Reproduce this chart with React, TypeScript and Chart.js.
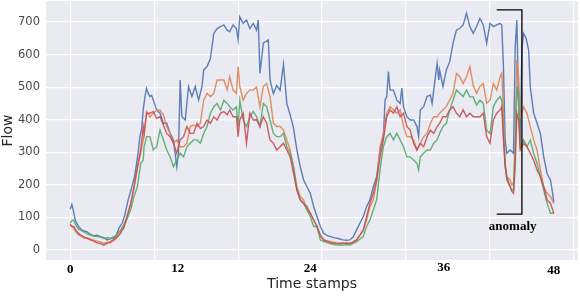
import React, { useEffect, useRef } from 'react';
import { Chart, registerables } from 'chart.js';
Chart.register(...registerables);

// ---- data (x = time index, 5-min steps; y = flow) ----
const blueX = [0,2,4,6,10,14,20,24,28,32,36,40,44,48,52,55,58,62,65,69,73,77,81,83,85,87,89,91,93,95,97,99,103,107,111,115,119,123,127,129,131,133,137,141,145,149,153,157,159,163,167,171,175,179,183,187,190,194,198,200,202,206,210,214,218,222,224,226,230,236,238,242,246,250,254,258,262,266,270,274,278,282,286,290,294,298,302,306,310,314,318,322,325,329,333,337,341,345,349,353,357,361,365,369,373,375,377,379,381,385,389,393,395,397,401,405,409,413,415,417,421,425,429,431,433,437,439,440,444,448,452,456,460,464,468,472,476,480,484,488,492,496,500,504,508,512,514,516,518,520,524,528,530,532,534,536,538,540,543,546,548,552,556,560,564,568,572,574,576];
const blueY = [125,140,118,92,72,61,56,48,43,45,41,38,31,35,36,45,67,82,107,153,189,230,300,348,370,430,470,496,480,471,475,460,430,420,389,389,358,338,256,300,522,409,399,502,471,502,460,502,553,563,588,665,680,686,691,675,670,691,680,645,716,696,706,680,696,675,706,542,635,645,522,480,505,490,570,450,415,374,307,256,215,194,174,133,102,72,51,45,41,38,36,33,31,30,31,40,61,82,102,133,154,194,225,307,348,460,471,548,491,491,460,450,497,440,409,399,399,379,348,430,440,471,476,450,491,573,522,553,502,553,578,635,675,680,691,727,686,665,686,711,691,635,696,686,691,696,691,563,338,297,307,297,624,706,450,330,620,665,650,614,500,420,389,358,286,235,215,184,148];

const orangeX = [0,4,7,10,13,16,20,24,28,32,36,40,44,48,51,54,57,60,64,68,72,76,80,84,88,91,95,99,103,107,111,115,119,123,127,131,135,139,143,147,151,155,159,163,167,171,175,179,183,187,190,194,198,200,202,206,210,214,218,222,226,230,234,238,242,246,250,254,258,262,266,270,274,278,282,286,290,294,298,302,306,310,314,318,322,325,329,333,337,341,345,349,353,357,361,365,367,369,373,377,381,385,389,393,397,401,405,409,413,417,421,425,429,433,437,440,444,448,452,456,460,464,468,472,476,480,484,488,492,496,500,504,508,512,514,516,518,520,524,526,528,530,532,534,536,540,544,548,552,556,560,564,568,572,576];
const orangeY = [80,67,55,46,42,36,38,34,30,27,25,20,24,22,28,33,45,56,67,102,138,189,250,297,353,425,409,420,430,430,415,379,358,328,338,317,317,328,379,384,379,389,460,481,471,481,522,522,522,491,532,491,481,563,502,460,481,491,491,500,440,502,511,471,389,379,379,368,338,307,256,194,164,154,123,113,92,72,41,31,28,26,23,20,21,20,22,20,25,31,45,61,92,133,154,210,260,317,358,420,440,430,420,430,379,348,348,338,307,328,348,358,389,409,409,420,430,440,460,481,542,532,511,532,563,505,481,502,511,450,460,511,491,532,542,430,266,225,215,200,205,338,583,532,409,440,420,379,338,307,246,194,174,164,143];

const greenX = [0,2,4,7,10,13,16,20,24,28,32,36,40,44,48,51,54,57,60,64,68,72,76,80,84,87,88,91,95,99,103,107,111,115,119,123,127,131,135,139,143,147,151,155,159,163,167,171,175,179,183,187,190,194,198,200,202,206,210,214,218,222,226,230,234,238,242,246,250,254,258,262,266,270,274,278,282,286,290,294,298,302,306,310,314,318,322,325,329,333,337,341,345,349,353,357,361,365,367,369,373,377,381,385,389,393,397,401,405,409,413,415,417,421,425,429,433,437,440,444,448,452,456,460,464,468,472,476,480,484,488,492,496,500,504,508,512,514,516,518,520,524,526,528,530,532,534,536,540,544,548,552,556,560,564,568,572,576];
const greenY = [83,90,92,75,64,60,56,50,46,43,41,40,36,38,36,40,43,52,61,77,97,123,164,194,266,276,317,348,348,307,317,368,338,307,286,256,276,297,286,317,328,338,338,328,358,379,420,440,450,430,460,450,440,430,440,379,460,399,379,409,425,410,379,450,440,399,358,348,348,358,317,297,256,184,154,143,123,102,72,72,31,26,23,20,17,15,16,15,17,15,20,26,33,41,72,92,123,154,200,246,317,348,358,338,358,338,317,286,286,276,266,246,286,297,307,307,328,338,358,379,389,430,460,491,481,471,491,470,470,445,460,450,368,358,440,460,471,460,358,266,215,194,185,184,307,502,460,317,338,317,338,297,266,225,184,143,113,113];

const redX = [0,2,4,7,10,13,16,20,24,28,32,36,40,44,48,51,54,57,60,64,68,72,76,80,84,87,88,91,95,99,103,107,111,115,119,123,127,131,135,139,143,147,151,155,159,163,167,171,175,179,183,187,190,194,198,200,202,206,210,214,218,222,226,230,234,238,242,246,250,254,258,262,266,270,274,278,282,286,290,294,298,302,306,310,314,318,322,325,329,333,337,341,345,349,353,357,361,365,369,373,377,381,385,389,393,397,401,405,409,413,417,421,425,429,433,437,440,444,448,452,456,460,464,468,472,476,480,484,488,492,496,500,504,508,512,514,516,518,520,524,526,528,530,532,534,536,540,544,548,552,556,560,564,568,572,576];
const redY = [78,72,72,60,51,45,41,36,31,27,22,20,15,20,26,30,36,42,51,72,107,143,194,256,307,379,358,420,420,425,404,409,384,358,348,328,297,338,348,379,358,358,389,373,379,399,389,409,399,420,425,415,430,409,409,348,399,420,328,420,399,400,379,409,389,338,328,307,317,328,307,286,235,184,154,143,133,113,92,72,46,31,27,22,21,20,21,22,20,20,24,31,45,61,102,143,174,215,286,338,409,430,420,440,409,420,379,368,328,307,328,317,348,368,358,379,389,409,409,430,440,420,409,430,409,420,410,409,409,420,348,328,399,420,430,440,338,256,225,194,180,174,256,420,399,307,328,317,297,276,246,225,194,154,143,113];

// axis ticks / labels
const xGridValues = [0, 100, 200, 300, 400, 500, 600];
const yTickValues = [0, 100, 200, 300, 400, 500, 600, 700];
const xLabelText = ['0', '12', '24', '36', '48'];
const xLabelAt = [0, 128, 286, 445, 576];

// annotation (data units)
const anomalyText = 'anomaly';
const anomalyLeft = 508;
const anomalyRight = 538;
const anomalyTop = 737;
const anomalyBottom = 110;
const anomalyTextX = 527;
const anomalyTextY = 71;

const toPts = (xs: number[], ys: number[]) => xs.map((x, i) => ({ x, y: ys[i] }));

const bgPlugin = {
  id: 'panelBg',
  beforeDraw(chart: any) {
    const { ctx, chartArea } = chart;
    ctx.save();
    ctx.fillStyle = '#eaeaf2';
    ctx.fillRect(chartArea.left, chartArea.top, chartArea.right - chartArea.left, chartArea.bottom - chartArea.top);
    ctx.restore();
  },
};

const overlayPlugin = {
  id: 'overlay',
  afterDraw(chart: any) {
    const { ctx, chartArea } = chart;
    const xs = chart.scales.x;
    const ys = chart.scales.y;
    ctx.save();
    ctx.fillStyle = '#000';
    ctx.font = 'bold 13px "Liberation Serif", "Times New Roman", serif';
    ctx.textAlign = 'center';
    ctx.textBaseline = 'middle';
    const dy = [10, 9, 9, 7.5, 11];
    xLabelText.forEach((t, i) => {
      ctx.fillText(t, xs.getPixelForValue(xLabelAt[i]), chartArea.bottom + dy[i]);
    });
    const l = xs.getPixelForValue(anomalyLeft);
    const r = xs.getPixelForValue(anomalyRight);
    const t = ys.getPixelForValue(anomalyTop);
    const b = ys.getPixelForValue(anomalyBottom);
    ctx.strokeStyle = '#000';
    ctx.lineWidth = 1.3;
    ctx.beginPath();
    ctx.moveTo(l, t);
    ctx.lineTo(r, t);
    ctx.lineTo(r, b);
    ctx.lineTo(l, b);
    ctx.stroke();
    ctx.fillText(anomalyText, xs.getPixelForValue(anomalyTextX), ys.getPixelForValue(anomalyTextY));
    ctx.restore();
  },
};

export default function App() {
  const ref = useRef<HTMLCanvasElement>(null);
  useEffect(() => {
    const mk = (label: string, xs: number[], ys: number[], color: string, order: number) => ({
      label,
      data: toPts(xs, ys),
      borderColor: color,
      borderWidth: 1.4,
      pointRadius: 0,
      tension: 0,
      order,
    });
    const chart = new Chart(ref.current!, {
      type: 'line',
      data: {
        datasets: [
          mk('s1', blueX, blueY, 'rgba(76,114,176,0.9)', 4),
          mk('s2', orangeX, orangeY, 'rgba(221,132,82,0.9)', 3),
          mk('s3', greenX, greenY, 'rgba(85,168,104,0.9)', 2),
          mk('s4', redX, redY, 'rgba(196,78,82,0.9)', 1),
        ],
      },
      options: {
        animation: false,
        responsive: false,
        devicePixelRatio: 1,
        layout: { padding: { top: 1, right: 2, left: 0, bottom: 0 } },
        plugins: { legend: { display: false }, tooltip: { enabled: false } },
        scales: {
          x: {
            type: 'linear',
            min: -28.8,
            max: 604.8,
            afterBuildTicks: (s: any) => { s.ticks = xGridValues.map((v) => ({ value: v })); },
            afterFit: (s: any) => { s.height = 36; s.paddingLeft = 0; s.paddingRight = 0; },
            ticks: { display: false },
            grid: { color: '#ffffff', lineWidth: 1.2, drawTicks: false },
            border: { display: false },
            title: {
              display: true,
              text: 'Time stamps',
              color: '#262626',
              font: { family: '"DejaVu Sans", sans-serif', size: 14 },
              padding: { top: 0, bottom: 3 },
            },
          },
          y: {
            min: -30.7,
            max: 764.5,
            afterBuildTicks: (s: any) => { s.ticks = yTickValues.map((v) => ({ value: v })); },
            afterFit: (s: any) => { s.width = 46; s.paddingTop = 0; s.paddingBottom = 0; },
            ticks: {
              color: '#4a4a4a',
              font: { family: '"DejaVu Sans", sans-serif', size: 11.5 },
              padding: 6,
            },
            grid: { color: '#ffffff', lineWidth: 1.2, drawTicks: false },
            border: { display: false },
            title: {
              display: true,
              text: 'Flow',
              color: '#262626',
              font: { family: '"DejaVu Sans", sans-serif', size: 14 },
              padding: { top: 0, bottom: 0 },
            },
          },
        },
      },
      plugins: [bgPlugin, overlayPlugin],
    });
    return () => chart.destroy();
  }, []);
  return (
    <div style={{ position: 'absolute', left: 0, top: 0, width: 580, height: 296, background: '#fff' }}>
      <canvas ref={ref} width={580} height={296} style={{ width: 580, height: 296 }} />
    </div>
  );
}
